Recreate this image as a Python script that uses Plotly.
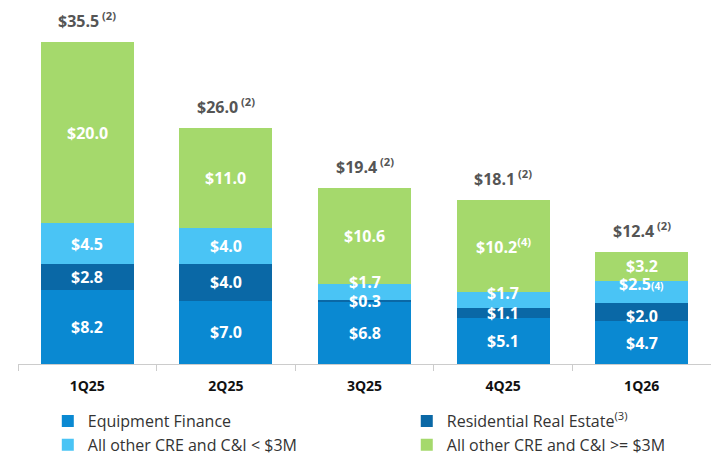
import plotly.graph_objects as go
import numpy as np

categories = ["1Q25", "2Q25", "3Q25", "4Q25", "1Q26"]
equipment_finance = [8.2, 7.0, 6.8, 5.1, 4.7]
residential_re = [2.8, 4.0, 0.3, 1.1, 2.0]
cre_ci_under_3m = [4.5, 4.0, 1.7, 1.7, 2.5]
cre_ci_over_3m = [20.0, 11.0, 10.6, 10.2, 3.2]
totals = [35.5, 26.0, 19.4, 18.1, 12.4]

series_names = ["Equipment Finance", "Residential Real Estate<sup>(3)</sup>",
                "All other CRE and C&I < $3M", "All other CRE and C&I >= $3M"]
series_values = [equipment_finance, residential_re, cre_ci_under_3m, cre_ci_over_3m]
colors = ["#0A89D2", "#0A68A6", "#4AC4F5", "#A5D96C"]
legend_ids = ["legend", "legend2", "legend", "legend2"]

# footnote marks attached to segment labels: (series index, category index) -> suffix
label_suffix = {(3, 3): "<sup>(4)</sup>", (2, 4): "<span style='font-size:10px'>(4)</span>"}
# small vertical nudges (px) so labels of thin segments do not collide
label_nudge = {(2, 2): 10, (2, 3): 7, (2, 4): 8, (1, 4): -4}

FONT = "Open Sans"

fig = go.Figure()
for name, vals, col, lg in zip(series_names, series_values, colors, legend_ids):
    fig.add_trace(go.Bar(
        x=categories, y=vals, name=name, legend=lg,
        marker=dict(color=col, line=dict(width=0)),
        hoverinfo="skip",
    ))

annotations = []
base = np.zeros(len(categories))
for si, vals in enumerate(series_values):
    for ci, v in enumerate(vals):
        annotations.append(dict(
            x=categories[ci], y=base[ci] + v / 2, xref="x", yref="y",
            text=f"${v:.1f}" + label_suffix.get((si, ci), ""),
            showarrow=False, yanchor="middle",
            yshift=label_nudge.get((si, ci), 0),
            font=dict(family=FONT, size=16, color="white", weight="bold"),
        ))
    base = base + np.array(vals)

for ci, t in enumerate(totals):
    annotations.append(dict(
        x=categories[ci], y=t, xref="x", yref="y",
        text=f"${t:.1f}<sup> (2)</sup>",
        showarrow=False, yanchor="middle", yshift=22,
        font=dict(family=FONT, size=16, color="#555555", weight="bold"),
    ))

legend_common = dict(
    orientation="v", yanchor="top", y=-0.113, xanchor="left",
    font=dict(family=FONT, size=16, color="#333333"),
    traceorder="normal", itemclick=False, itemdoubleclick=False,
    bgcolor="rgba(0,0,0,0)",
)

# the page body adds an 8px offset, so the figure is sized to the remaining viewport
fig.update_layout(
    width=711, height=453,
    margin=dict(l=10, r=8, t=2, b=97, autoexpand=False),
    barmode="stack", bargap=0.33,
    plot_bgcolor="white", paper_bgcolor="white",
    font=dict(family=FONT, color="#333333"),
    annotations=annotations,
    showlegend=True,
    legend=dict(x=0.043, **legend_common),
    legend2=dict(x=0.561, **legend_common),
    xaxis=dict(
        showline=True, linecolor="#cccccc", linewidth=1,
        ticks="outside", ticklen=6, tickcolor="#cccccc", tickson="boundaries",
        ticklabelstandoff=9,
        tickfont=dict(family=FONT, size=14, color="#111111", weight="bold"),
        showgrid=False, fixedrange=True,
    ),
    yaxis=dict(visible=False, range=[0, 39.03], fixedrange=True),
)

fig.write_html("out.html")
